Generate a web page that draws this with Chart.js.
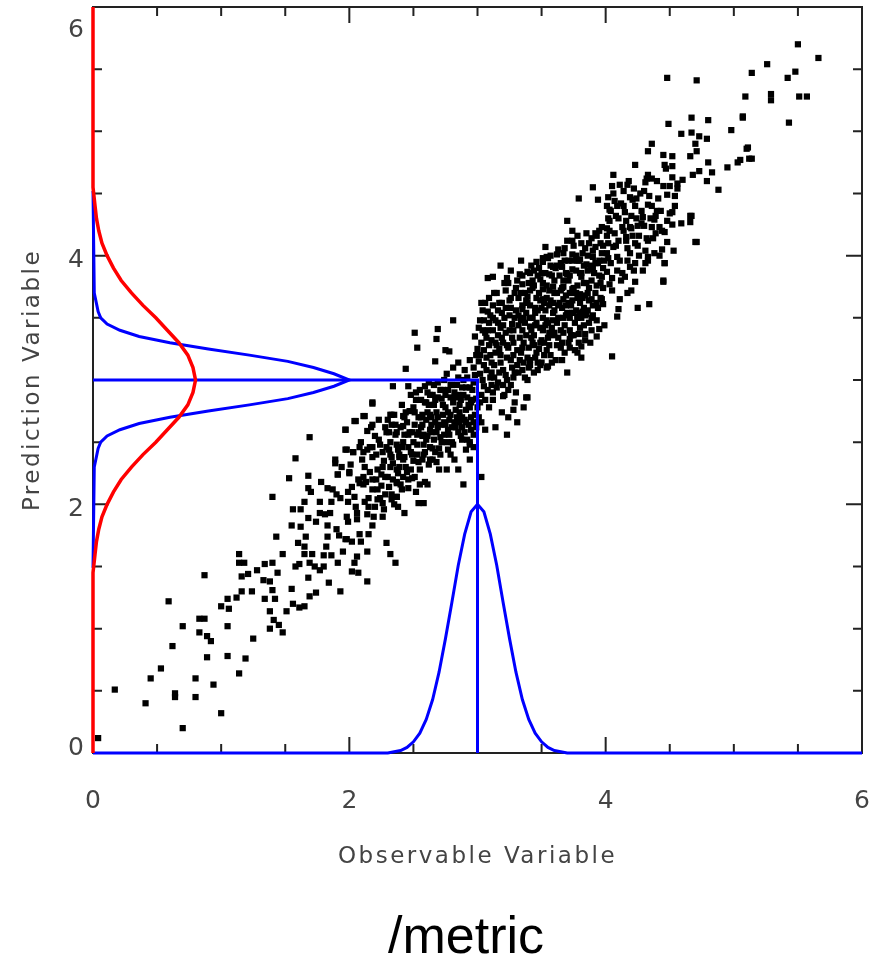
<!DOCTYPE html>
<html>
<head>
<meta charset="utf-8">
<title>Observable vs Prediction</title>
<script src="https://cdn.jsdelivr.net/npm/chart.js@4.4.1/dist/chart.umd.min.js"></script>
<style>
  html, body { margin: 0; padding: 0; background: #fff; }
  canvas { display: block; }
</style>
</head>
<body>
<canvas id="obsChart" width="871" height="958"></canvas>
<script>
// ---- data ----
const axisTicks = [0, 0.5, 1, 1.5, 2, 2.5, 3, 3.5, 4, 4.5, 5, 5.5, 6];
const axisLabels = [0, 2, 4, 6];

// observed value with its predicted spread (blue profile on the x axis)
const obsCurveX = [0, 2.30, 2.35, 2.40, 2.45, 2.50, 2.55, 2.60, 2.65, 2.70, 2.75, 2.80, 2.85, 2.90, 2.95, 3.00,
  3.05, 3.10, 3.15, 3.20, 3.25, 3.30, 3.35, 3.40, 3.45, 3.50, 3.55, 3.60, 3.65, 3.70, 6];
const obsCurveY = [0, 0, 0.01, 0.02, 0.045, 0.09, 0.16, 0.27, 0.43, 0.65, 0.92, 1.21, 1.51, 1.76, 1.94, 2.00,
  1.94, 1.76, 1.51, 1.21, 0.92, 0.65, 0.43, 0.27, 0.16, 0.09, 0.045, 0.02, 0.01, 0, 0];

// conditional prediction profile (blue, on the y axis)
const condCurveY = [1.49, 2.30, 2.40, 2.45, 2.50, 2.55, 2.60, 2.65, 2.70, 2.75, 2.80, 2.85, 2.90, 2.95, 3.00,
  3.05, 3.10, 3.15, 3.20, 3.25, 3.30, 3.35, 3.40, 3.45, 3.50, 3.55, 3.60, 3.70, 4.52];
const condCurveX = [0, 0.01, 0.03, 0.04, 0.06, 0.11, 0.21, 0.36, 0.60, 0.90, 1.22, 1.52, 1.72, 1.88, 2.00,
  1.88, 1.72, 1.52, 1.22, 0.90, 0.60, 0.36, 0.21, 0.11, 0.06, 0.04, 0.03, 0.01, 0];

// marginal prediction profile (red, on the y axis)
const margCurveY = [0, 1.45, 1.6, 1.7, 1.8, 1.9, 2.0, 2.1, 2.2, 2.3, 2.4, 2.5, 2.6, 2.7, 2.8, 2.9, 3.0,
  3.1, 3.2, 3.3, 3.4, 3.5, 3.6, 3.7, 3.8, 3.9, 4.0, 4.1, 4.2, 4.3, 4.4, 4.55, 6];
const margCurveX = [0, 0, 0.016, 0.027, 0.045, 0.07, 0.11, 0.16, 0.22, 0.30, 0.39, 0.49, 0.58, 0.67, 0.74, 0.78, 0.80,
  0.78, 0.74, 0.67, 0.58, 0.49, 0.39, 0.30, 0.22, 0.16, 0.11, 0.07, 0.045, 0.027, 0.016, 0, 0];

// the chosen observation and its prediction
const pickObs = 3;
const pickPred = 3;

// sample: [observable, prediction]
const samples = [
  [0.04,0.12],[0.17,0.51],[0.41,0.40],[0.45,0.60],[0.53,0.68],[0.62,0.86],[0.70,1.02],[0.64,0.48],[0.64,0.45],
  [0.70,0.20],[0.80,0.60],[0.80,0.45],[0.59,1.22],[0.83,1.08],[0.87,1.08],[0.83,0.97],[0.89,0.94],[0.92,0.90],
  [0.89,0.77],[0.94,0.55],[1.00,0.32],[0.87,1.43],[1.00,1.18],[1.05,1.02],[1.05,0.78],[1.05,1.24],[1.06,1.16],
  [1.12,1.25],[1.14,0.64],[1.19,0.76],[1.25,0.92],[1.14,1.60],[1.14,1.53],[1.18,1.53],[1.16,1.42],[1.21,1.44],
  [1.16,1.30],[1.24,1.30],[1.28,1.47],[1.34,1.52],[1.40,1.53],[1.33,1.39],[1.38,1.38],[1.34,1.24],[1.42,1.24],
  [1.40,1.31],[1.38,1.14],[1.41,1.07],[1.38,1.00],[1.45,1.03],[1.48,0.97],[1.44,1.45],[1.43,1.74],[1.40,2.06],
  [1.48,1.60],[1.53,2.21],[1.58,2.37],[1.56,1.96],[1.55,1.83],[1.58,1.50],[1.61,1.52],[1.55,1.32],[1.56,1.20],
  [1.61,1.17],[1.65,1.18],[1.51,1.14],[1.60,1.69],[1.65,1.66],[1.62,1.82],[1.65,2.02],[1.68,1.89],[1.68,2.13],
  [1.68,2.23],[1.69,2.54],[1.65,1.60],[1.71,1.60],[1.69,1.53],[1.73,1.50],[1.77,1.47],[1.80,1.50],[1.68,1.41],
  [1.69,1.26],[1.74,1.29],[1.77,2.02],[1.77,1.93],[1.81,1.92],[1.85,1.93],[1.83,1.83],[1.83,1.74],[1.80,1.59],
  [1.86,1.59],[1.84,1.37],[1.93,1.30],[1.91,1.53],[1.95,1.62],[1.92,1.75],[1.97,1.72],[2.02,1.70],[1.98,1.90],
  [1.99,1.86],[2.06,1.93],[2.14,1.92],[2.18,1.83],[2.15,1.76],[2.08,1.76],[2.09,1.70],[2.06,1.58],[2.04,1.53],
  [2.02,1.46],[2.07,1.45],[2.14,1.38],[2.29,1.69],[2.32,1.60],[2.36,1.53],[1.99,2.02],[2.04,2.06],[1.87,2.12],
  [1.90,2.08],[1.93,2.05],[1.83,2.13],[1.91,2.24],[1.89,2.33],[1.97,2.60],[2.05,2.67],[2.12,2.71],[2.14,2.59],
  [2.18,2.82],[1.97,2.44],[2.03,2.42],[2.08,2.46],[2.14,2.44],[2.18,2.46],[2.00,2.25],[2.07,2.20],[2.11,2.22],
  [2.11,2.16],[2.16,2.26],[2.18,2.20],[2.18,2.12],[2.22,2.12],[2.22,2.04],[2.26,2.01],[2.15,1.98],[2.20,1.98],
  [2.26,1.90],[2.33,2.04],[2.37,2.06],[2.43,1.93],[2.32,2.30],[2.37,2.28],[2.26,2.42],[2.32,2.50],[2.29,2.58],
  [2.37,2.58],[2.42,2.63],[2.33,2.72],[2.42,2.71],[2.39,2.38],[2.42,2.22],[2.37,2.17],[2.28,2.22],
  [1.62,1.96],[1.66,1.74],[1.70,2.10],[1.74,1.86],[1.78,2.18],[1.82,1.66],[1.86,2.02],[1.90,1.80],[1.94,2.30],
  [1.98,1.72],[2.02,2.14],[2.06,1.88],[2.10,2.36],[2.14,1.62],
  [3.12,3.83],[3.23,3.82],[2.81,3.48],[2.69,3.41],[2.51,3.38],[2.68,3.33],[2.53,3.26],[2.75,3.24],[2.78,3.23],
  [2.67,3.15],[2.44,3.09],[2.34,2.95],[2.46,2.95],[2.18,2.81],[2.18,2.64],[2.11,2.71],[2.04,2.67],[1.97,2.60],
  [2.32,2.72],[2.33,2.64],[1.98,2.44],[2.03,2.42],[2.11,2.42],[2.16,2.46],[1.89,2.36],[1.91,2.24],[2.00,2.26],
  [2.08,2.17],[1.99,2.10],[2.12,2.02],[2.24,2.05],[2.37,2.06],[2.38,1.98],[2.54,2.01],[2.58,2.01],[2.46,2.13],
  [2.61,2.16],[2.49,2.21],[2.63,2.36],[2.68,2.34],[2.76,2.28],[2.85,2.28],[2.89,2.16],[2.94,2.36],[2.94,2.50],
  [2.91,2.66],[3.03,2.66],[3.06,2.60],[3.03,2.22],[3.23,2.56],[3.31,2.66],[3.28,2.76],[3.39,2.86],[3.20,2.87],
  [3.12,2.84],[3.70,3.06],[3.55,3.11],[3.41,3.12],[3.78,3.22],[3.79,3.37],[3.82,3.55],[3.74,3.73],[3.51,3.95],
  [3.39,3.87],
  [2.12,2.30],[2.15,2.05],[2.18,2.38],[2.20,2.55],[2.22,2.28],[2.24,2.48],[2.25,2.15],[2.27,2.35],[2.28,2.62],
  [2.30,2.22],[2.31,2.44],[2.33,2.08],[2.34,2.33],[2.36,2.56],[2.38,2.25],[2.39,2.40],[2.41,2.12],[2.42,2.50],
  [2.44,2.30],[2.45,2.66],[2.46,2.20],[2.48,2.42],[2.49,2.58],[2.50,2.35],[2.52,2.10],[2.53,2.48],[2.55,2.28],
  [2.56,2.62],[2.58,2.40],[2.59,2.18],[2.61,2.55],[2.62,2.32],[2.64,2.70],[2.65,2.45],
  [2.50,2.78],[2.52,2.90],[2.54,2.70],[2.56,2.84],[2.57,2.55],[2.59,2.95],[2.60,2.68],[2.62,2.80],[2.63,2.60],
  [2.65,2.88],[2.66,2.52],[2.68,2.74],[2.69,2.98],[2.71,2.64],[2.72,2.85],[2.74,2.56],[2.75,2.78],[2.77,2.92],
  [2.78,2.68],[2.80,2.50],[2.81,2.82],[2.83,2.62],[2.84,2.96],[2.86,2.74],[2.87,2.55],[2.89,2.88],[2.90,2.68],
  [2.92,3.02],[2.93,2.80],[2.95,2.60],[2.96,2.92],[2.98,2.72],[2.99,2.85],[2.70,2.45],[2.76,3.05],[2.58,2.48],
  [2.66,2.96],[2.85,3.02],[2.94,2.48],[2.79,2.40],
  [2.31,2.58],[2.35,2.72],[2.37,2.18],[2.40,2.62],[2.43,2.38],[2.47,2.75],[2.51,2.22],[2.54,2.58],[2.57,2.36],
  [2.60,2.82],[2.63,2.46],[2.67,2.66],[2.70,2.28],[2.73,2.92],[2.76,2.50],[2.79,2.72],[2.82,2.36],[2.85,2.88],
  [2.88,2.62],[2.91,2.44],[2.94,2.78],[2.97,2.56],
  [2.41,2.80],[2.43,2.56],[2.46,2.46],[2.48,2.88],[2.51,2.64],[2.53,2.40],[2.55,2.92],[2.57,2.72],[2.60,2.52],
  [2.62,2.98],[2.64,2.58],[2.67,2.42],[2.69,2.86],[2.71,2.54],[2.73,2.72],[2.74,3.00],[2.77,2.60],[2.79,2.86],
  [2.81,2.48],[2.83,2.76],[2.86,2.66],[2.88,2.94],[2.90,2.58],[2.92,2.86],[2.95,2.70],[2.97,2.98],[2.99,2.62],
  [2.01,2.32],[2.05,1.98],[2.09,2.50],[2.13,2.18],[2.17,2.62],[2.19,1.90],[2.21,2.40],[2.23,2.68],[2.25,2.24],
  [2.27,1.96],[2.29,2.46],[2.31,2.14],[2.33,2.38],[2.35,2.00],[2.37,2.48],[2.39,2.30],
  [2.21,2.20],[2.23,2.52],[2.26,2.30],[2.28,2.08],[2.30,2.68],[2.32,2.40],[2.34,2.20],[2.36,2.64],[2.38,2.44],
  [2.40,2.16],[2.42,2.36],[2.44,2.74],[2.46,2.56],[2.48,2.28],[2.50,2.50],[2.52,2.84],[2.54,2.34],[2.56,2.70],
  [2.58,2.56],[2.59,2.82],
  [2.41,2.46],[2.43,2.70],[2.45,2.26],[2.47,2.58],[2.49,2.40],[2.51,2.74],[2.53,2.56],[2.55,2.16],[2.57,2.64],
  [2.59,2.42],[2.61,2.90],[2.63,2.72],[2.65,2.36],[2.67,2.84],[2.69,2.62],[2.71,2.40],[2.73,2.80],[2.75,2.64],
  [2.77,2.44],[2.79,2.96],
  [2.61,2.74],[2.63,2.88],[2.64,2.64],[2.66,2.80],[2.68,2.58],[2.69,2.70],[2.71,2.92],[2.72,2.50],[2.74,2.66],
  [2.75,2.88],[2.77,2.74],[2.78,2.56],[2.80,2.96],[2.82,2.66],[2.83,2.86],[2.85,2.58],[2.86,2.80],[2.88,2.70],
  [2.89,3.00],[2.91,2.76],[2.92,2.52],[2.94,2.94],[2.95,2.82],[2.97,2.66],[2.98,3.04],[3.00,2.78],
  [2.80,2.62],[2.81,3.10],[2.82,2.90],[2.84,2.70],[2.85,3.14],[2.87,2.84],[2.88,2.52],[2.90,3.08],[2.91,2.94],
  [2.93,2.64],[2.94,3.16],[2.96,2.84],[2.97,2.46],[2.99,3.20],
  [2.97,3.10],[3.00,3.25],[3.02,3.05],[3.04,3.40],[3.05,2.95],[3.07,3.18],[3.08,3.55],[3.10,3.02],[3.11,3.32],
  [3.13,3.12],[3.14,3.48],[3.16,2.98],[3.17,3.25],[3.19,3.62],[3.20,3.08],[3.22,3.38],[3.23,3.18],[3.25,3.52],
  [3.26,2.96],[3.28,3.30],[3.29,3.70],[3.31,3.12],[3.32,3.44],[3.34,3.22],[3.35,3.60],[3.37,3.02],[3.38,3.36],
  [3.40,3.78],[3.41,3.16],[3.43,3.50],[3.44,3.28],[3.46,3.66],[3.47,3.08],[3.49,3.42],[3.50,3.86],[3.52,3.20],
  [3.53,3.56],[3.55,3.34],[3.56,3.72],[3.58,3.14],[3.59,3.48],[3.61,3.90],[3.62,3.28],[3.64,3.62],[3.65,3.40],
  [3.67,3.80],[3.68,3.22],[3.70,3.54],[3.71,3.96],[3.73,3.36],[3.74,3.70],[3.76,3.46],[3.77,3.88],[3.79,3.30],
  [3.80,3.62],[3.82,4.02],[3.83,3.44],[3.85,3.78],[3.86,3.56],[3.88,3.92],[3.89,3.40],
  [2.98,3.35],[3.03,2.88],[3.06,3.62],[3.09,3.28],[3.12,2.90],[3.15,3.70],[3.18,3.42],[3.21,2.88],[3.24,3.78],
  [3.27,3.45],[3.30,2.90],[3.33,3.85],[3.36,3.50],[3.39,3.00],[3.42,3.92],[3.45,3.58],[3.48,3.25],[3.51,3.98],
  [3.54,3.10],[3.57,3.64],[3.60,3.38],[3.63,4.05],[3.66,3.16],[3.69,3.68],[3.72,3.26],[3.75,4.08],[3.78,3.50],
  [3.81,3.18],[3.84,3.68],[3.87,4.10],[3.90,3.52],
  [3.01,2.70],[3.05,3.48],[3.09,2.78],[3.12,3.60],[3.16,3.36],[3.19,2.74],[3.22,3.58],[3.26,3.16],[3.29,2.82],
  [3.32,3.66],[3.35,3.40],[3.38,2.86],[3.41,3.72],[3.44,3.06],[3.47,3.84],[3.50,3.32],[3.18,3.92],[3.08,3.82],
  [3.26,3.88],[3.34,3.96],[3.14,2.62],[3.24,2.70],[3.36,2.78],
  [3.01,3.15],[3.03,3.30],[3.04,3.00],[3.06,3.38],[3.07,3.08],[3.09,3.46],[3.10,3.20],[3.12,3.40],[3.13,3.02],
  [3.15,3.28],[3.16,3.56],[3.18,3.14],[3.19,3.34],[3.21,3.50],[3.22,3.04],[3.24,3.26],[3.25,3.64],[3.27,3.10],
  [3.28,3.40],[3.30,3.56],[3.31,3.24],[3.33,3.34],[3.34,3.70],[3.36,3.14],[3.37,3.46],[3.39,3.62],[3.40,3.26],
  [3.42,3.40],[3.43,3.80],[3.45,3.18],[3.46,3.46],[3.48,3.70],[3.49,3.12],[3.51,3.50],[3.02,2.82],[3.11,2.96],
  [3.20,2.96],[3.28,3.02],[3.35,3.08],[3.44,3.36],
  [3.01,3.42],[3.02,3.20],[3.04,3.56],[3.05,3.12],[3.07,3.34],[3.08,2.92],[3.10,3.52],[3.11,3.14],[3.13,3.70],
  [3.14,3.22],[3.16,3.46],[3.17,3.06],[3.19,3.54],[3.20,3.30],[3.22,3.72],[3.23,3.00],[3.25,3.40],[3.26,3.58],
  [3.28,3.20],[3.29,3.50],[3.31,3.80],[3.32,3.06],[3.34,3.48],[3.35,3.26],[3.37,3.70],[3.38,3.54],[3.40,3.10],
  [3.41,3.60],[3.43,3.30],[3.44,3.88],[3.46,3.22],[3.47,3.56],[3.49,3.64],[3.50,3.14],
  [3.02,3.48],[3.03,3.62],[3.05,3.24],[3.06,2.84],[3.08,3.40],[3.09,3.66],[3.11,3.06],[3.12,3.50],[3.14,3.30],
  [3.15,2.94],[3.17,3.62],[3.18,3.20],[3.20,3.44],[3.21,3.78],[3.23,3.28],[3.24,2.92],[3.26,3.66],[3.27,3.34],
  [3.29,3.06],[3.30,3.74],[3.32,3.52],[3.33,3.16],[3.35,3.84],[3.36,3.30],[3.38,3.64],[3.39,3.18],[3.41,3.50],
  [3.42,3.34],[3.44,3.76],[3.45,3.44],[3.47,3.14],[3.48,3.90],[3.50,3.58],
  [3.52,3.62],[3.55,3.98],[3.58,3.42],[3.61,3.16],[3.64,3.84],[3.67,3.50],[3.70,4.12],[3.73,3.60],[3.76,3.24],
  [3.79,3.96],[3.82,3.66],[3.85,4.18],[3.88,3.30],[3.91,3.86],[3.94,3.58],[3.97,4.02],[3.99,3.44],
  [3.52,3.30],[3.54,3.76],[3.55,3.46],[3.57,3.20],[3.58,3.84],[3.60,3.56],[3.62,3.70],[3.63,3.34],[3.65,3.94],
  [3.66,3.58],[3.68,3.44],[3.69,3.86],[3.71,3.62],[3.72,3.40],[3.74,3.96],[3.75,3.74],[3.77,3.56],[3.78,3.76],
  [3.80,3.42],[3.81,3.86],[3.83,3.58],[3.84,4.06],[3.86,3.70],[3.87,3.46],[3.89,3.80],[3.90,4.04],[3.92,3.70],
  [3.93,3.48],[3.95,3.84],[3.96,4.10],[3.98,3.74],[3.99,3.96],
  [3.51,3.78],[3.53,3.44],[3.54,3.66],[3.56,3.28],[3.57,3.92],[3.59,3.54],[3.60,3.80],[3.62,3.46],[3.63,3.60],
  [3.65,3.26],[3.66,3.74],[3.68,3.96],[3.69,3.52],[3.71,3.30],[3.72,3.84],[3.74,3.64],[3.75,3.36],[3.77,4.00],
  [3.78,3.66],[3.80,3.86],[3.81,3.50],[3.83,3.92],[3.84,3.32],[3.86,3.88],[3.87,3.64],[3.89,4.14],[3.90,3.60],
  [3.92,3.94],[3.93,3.76],[3.95,4.20],[3.96,3.66],[3.98,3.90],
  [3.51,3.40],[3.53,3.86],[3.54,3.24],[3.56,3.60],[3.57,4.00],[3.59,3.36],[3.60,3.70],[3.62,3.92],[3.63,3.50],
  [3.65,3.72],[3.66,3.30],[3.68,4.06],[3.69,3.60],[3.71,3.80],[3.72,3.50],[3.74,4.12],[3.75,3.54],[3.77,3.70],
  [3.78,3.96],[3.80,3.54],[3.81,4.10],[3.83,3.78],[3.84,3.52],[3.86,4.00],[3.87,3.74],[3.89,3.50],[3.90,3.90],
  [3.92,4.18],[3.93,3.62],[3.95,3.96],[3.96,3.78],[3.98,4.08],
  [4.49,5.06],[4.67,5.11],[4.80,5.09],[5.07,5.12],[4.98,5.01],[4.59,4.98],[4.67,4.99],[4.73,4.96],[4.79,4.94],
  [4.70,4.90],[4.71,4.84],[4.66,4.80],[5.10,4.86],[5.12,4.78],[5.05,4.77],[5.03,4.75],[4.95,4.71],[4.80,4.75],
  [4.83,4.67],[4.79,4.60],[4.88,4.53],[4.73,4.68],[4.68,4.65],[4.60,4.61],[4.52,4.80],[4.45,4.81],[4.46,4.73],
  [4.52,4.72],[4.33,4.84],[4.36,4.90],[4.23,4.73],[4.06,4.65],[4.11,4.57],[4.05,4.56],[4.17,4.57],[4.31,4.59],
  [4.33,4.65],[4.52,4.63],[4.50,4.56],[4.56,4.54],[4.48,4.49],[4.54,4.48],[3.90,4.55],[3.79,4.46],[3.94,4.45],
  [4.02,4.47],[4.01,4.40],[4.09,4.40],[4.03,4.37],[4.15,4.35],[4.19,4.47],[4.21,4.45],[4.33,4.41],[4.40,4.36],
  [4.54,4.40],[4.52,4.35],[4.67,4.32],[4.66,4.27],[4.71,4.11],[4.46,4.19],[4.52,4.25],[4.42,4.23],[4.36,4.23],
  [4.38,4.29],[4.29,4.31],[4.24,4.30],[4.25,4.24],[4.19,4.23],[4.13,4.23],[4.02,4.30],[3.97,4.23],[4.03,4.20],
  [3.70,4.28],[3.74,4.20],[3.78,4.16],[3.93,4.16],[4.01,4.16],[4.16,4.15],[4.21,4.16],[4.32,4.14],[4.48,4.11],
  [4.44,4.05],[4.33,3.99],[4.31,3.94],[4.46,3.94],[4.45,3.79],[4.23,3.94],[4.19,3.91],[4.23,3.79],[4.15,3.83],
  [4.09,3.99],[4.06,4.07],[4.01,3.87],[3.97,3.83],[4.03,3.77],[3.92,4.07],[3.90,3.99],[3.94,3.94],[3.89,3.89],
  [3.85,3.93],[3.80,3.97],[3.74,4.01],[3.70,3.85],[3.74,3.89],[3.81,3.83],[3.53,4.07],[3.46,3.95],[3.54,3.99],
  [3.62,4.01],[3.67,4.02],[3.59,3.91],[3.66,3.91],[3.56,3.85],[3.49,3.81],[3.41,3.86],[3.35,3.77],[3.43,3.74],
  [3.51,3.73],[3.59,3.75],[3.67,3.75],[3.51,3.65],[3.59,3.62],[3.67,3.65],[3.72,3.70],[3.80,3.69],[3.89,3.65],
  [3.97,3.65],[3.98,3.61],[4.10,3.57],[4.11,3.65],[4.17,3.70],[4.25,3.58],[4.34,3.61],[4.09,3.51],[3.95,3.41],
  [3.93,3.35],[3.84,3.37],[3.74,3.54],[3.78,3.51],[3.85,3.53],[3.39,3.67],[3.35,3.57],[3.45,3.54],[3.41,3.43],
  [3.54,3.48],[3.56,3.38],[3.67,3.38],[3.72,3.33],[3.81,3.27],[4.05,3.19],[3.49,3.30],
  [4.02,4.10],[4.05,3.82],[4.08,4.32],[4.11,3.96],[4.14,4.52],[4.17,4.06],[4.20,3.72],[4.23,4.40],[4.26,4.16],
  [4.29,3.88],[4.32,4.62],[4.35,4.30],[4.38,4.02],[4.41,4.46],[4.44,4.20],[4.47,4.70],[4.50,4.34],[4.53,4.04],
  [4.56,4.58],[4.59,4.26],
  [4.01,4.22],[4.04,3.94],[4.07,4.44],[4.10,4.12],[4.13,3.86],[4.16,4.28],[4.19,4.02],[4.22,4.54],[4.25,4.08],
  [4.28,4.36],[4.31,4.04],[4.34,4.48],[4.37,4.14],[4.40,4.60],[4.43,4.36],
  [4.02,3.98],[4.04,4.36],[4.07,4.18],[4.09,3.88],[4.12,4.42],[4.14,4.20],[4.17,3.96],[4.20,4.32],[4.23,4.10],
  [4.27,4.50],[4.30,4.24],[4.33,3.96],[4.36,4.40],[4.39,4.18],
  [4.01,4.02],[4.03,4.28],[4.05,3.72],[4.06,4.50],[4.08,4.08],[4.10,4.30],[4.12,3.80],[4.14,4.40],[4.16,4.12],
  [4.18,4.60],[4.20,4.22],[4.22,3.88],[4.24,4.46],[4.26,4.00],[4.28,4.26],[4.30,4.52],[4.33,4.12],[4.36,4.62],
  [4.39,4.32],[4.42,4.00],[4.45,4.56],[4.48,4.28],
  [5.50,5.70],[5.66,5.59],[5.26,5.54],[5.14,5.47],[5.48,5.48],[5.42,5.43],[4.48,5.43],[4.71,5.41],[5.09,5.28],
  [5.29,5.30],[5.29,5.25],[5.51,5.28],[5.57,5.28],[5.07,5.11],[5.43,5.07],[5.11,4.87],[5.14,4.78],[4.66,4.32],
  [4.70,4.11],[4.45,3.80],[4.46,3.94]
];

// inward tick marks on all four sides, plus the frame and the text
const framePlugin = {
  id: 'frame',
  beforeDatasetsDraw(chart) {
    const { ctx, chartArea: a, scales: { x, y } } = chart;
    ctx.save();
    ctx.strokeStyle = '#222';
    ctx.lineWidth = 2;
    ctx.strokeRect(a.left, a.top, a.right - a.left, a.bottom - a.top);
    ctx.beginPath();
    axisTicks.forEach(v => {
      const len = axisLabels.includes(v) ? 16 : 9;
      const px = x.getPixelForValue(v);
      const py = y.getPixelForValue(v);
      ctx.moveTo(px, a.bottom); ctx.lineTo(px, a.bottom - len);
      ctx.moveTo(px, a.top); ctx.lineTo(px, a.top + len);
      ctx.moveTo(a.left, py); ctx.lineTo(a.left + len, py);
      ctx.moveTo(a.right, py); ctx.lineTo(a.right - len, py);
    });
    ctx.stroke();
    ctx.restore();
  },
  afterDraw(chart) {
    const { ctx, chartArea: a, scales: { x, y } } = chart;
    ctx.save();
    ctx.fillStyle = '#444';
    ctx.font = '25px "DejaVu Sans"';
    ctx.textBaseline = 'middle';
    ctx.textAlign = 'center';
    axisLabels.forEach(v => {
      ctx.fillText(String(v), x.getPixelForValue(v), a.bottom + 48);
      const py = Math.min(Math.max(y.getPixelForValue(v) + 5, 30), a.bottom - 5);
      ctx.fillText(String(v), 76, py);
    });

    ctx.font = '23px "DejaVu Sans"';
    ctx.letterSpacing = '2.5px';
    ctx.fillText('Observable Variable', (a.left + a.right) / 2, 857);
    ctx.translate(33, (a.top + a.bottom) / 2);
    ctx.rotate(-Math.PI / 2);
    ctx.fillText('Prediction Variable', 0, 0);
    ctx.restore();

    ctx.save();
    ctx.fillStyle = '#000';
    ctx.font = '52px "Liberation Sans", Arial, sans-serif';
    ctx.textAlign = 'center';
    ctx.textBaseline = 'alphabetic';
    ctx.fillText('/metric', 466, 953);
    ctx.restore();
  }
};

const zip = (xs, ys) => xs.map((v, i) => ({ x: v, y: ys[i] }));

new Chart(document.getElementById('obsChart'), {
  type: 'scatter',
  data: {
    datasets: [
      {
        label: 'marginal',
        data: zip(margCurveX, margCurveY),
        showLine: true, borderColor: '#ff0000', borderWidth: 3.5,
        pointRadius: 0, tension: 0, clip: false
      },
      {
        label: 'conditional',
        data: zip(condCurveX, condCurveY),
        showLine: true, borderColor: '#0000ff', borderWidth: 3,
        pointRadius: 0, tension: 0, clip: false
      },
      {
        label: 'observed',
        data: zip(obsCurveX, obsCurveY),
        showLine: true, borderColor: '#0000ff', borderWidth: 3,
        pointRadius: 0, tension: 0, clip: false
      },
      {
        label: 'pick',
        data: [{ x: 0, y: pickPred }, { x: pickObs, y: pickPred }, { x: pickObs, y: 0 }],
        showLine: true, borderColor: '#0000ff', borderWidth: 3,
        pointRadius: 0, tension: 0, clip: false
      },
      {
        label: 'samples',
        data: samples.map(p => ({ x: p[0], y: p[1] })),
        backgroundColor: '#000', borderColor: '#000', borderWidth: 0,
        pointStyle: 'rect', pointRadius: 4.4, clip: false
      }
    ]
  },
  options: {
    responsive: false,
    animation: false,
    layout: { padding: { left: 93, right: 9, top: 7, bottom: 205 } },
    scales: {
      x: { type: 'linear', min: 0, max: 6, display: false },
      y: { type: 'linear', min: 0, max: 6, display: false }
    },
    plugins: { legend: { display: false }, tooltip: { enabled: false } }
  },
  plugins: [framePlugin]
});
</script>
</body>
</html>
